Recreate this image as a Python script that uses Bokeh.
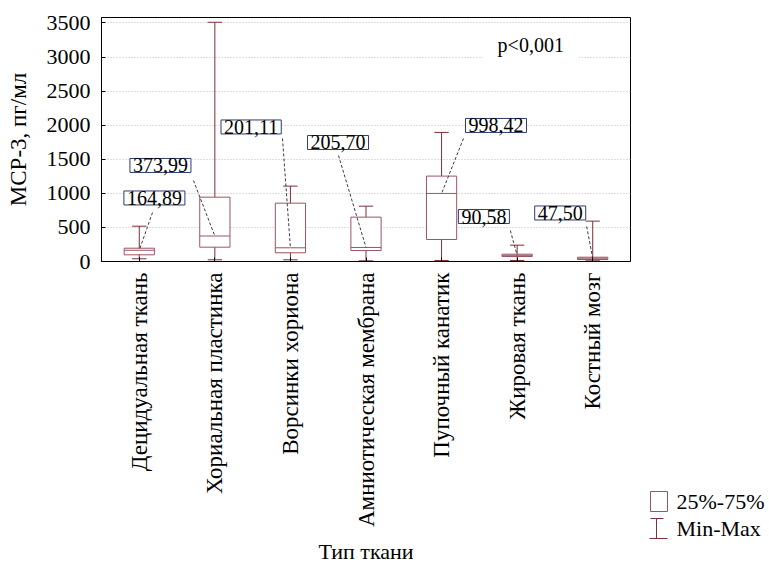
import math
from bokeh.plotting import figure
from bokeh.layouts import row
from bokeh.models import Range1d, FixedTicker, Label, ColumnDataSource
from bokeh.core.properties import value
from bokeh.embed import file_html
from bokeh.resources import INLINE

# ---- data ----
categories = ["Децидуальная ткань", "Хориальная пластинка", "Ворсинки хориона",
              "Амниотическая мембрана", "Пупочный канатик", "Жировая ткань", "Костный мозг"]
mins = [40, 25, 25, 10, 15, 15, 10]
q1 = [98, 210, 128, 161, 323, 73, 29]
medians = [164.89, 373.99, 201.11, 205.70, 998.42, 90.58, 47.50]
q3 = [195, 944, 856, 651, 1253, 107, 63]
maxs = [518, 3510, 1106, 812, 1894, 240, 592]
median_labels = ["164,89", "373,99", "201,11", "205,70", "998,42", "90,58", "47,50"]
y_ticks = [0, 500, 1000, 1500, 2000, 2500, 3000, 3500]
legend_labels = ["25%-75%", "Min-Max"]

# annotation placement (data coordinates)
lab_x = [1.20, 1.28, 2.48, 3.63, 5.72, 5.56, 6.57]
lab_y = [932, 1409, 1974, 1746, 1996, 660, 712]
lead_x0 = [1.175, 1.717, 2.895, 3.636, 5.29, 5.91, 6.92]
lead_y0 = [719, 1189, 1805, 1556, 1805, 455, 514]

FONT = "Liberation Serif"
BOX_C = "#9a5562"
WH_C = "#7e2f3a"

xs = list(range(1, len(categories) + 1))

p = figure(width=640, height=567, output_backend="svg", toolbar_location=None,
           x_range=Range1d(0.5, 7.5), y_range=Range1d(0, 3580),
           min_border_left=101, min_border_right=10, min_border_top=17, min_border_bottom=306)
p.frame_align = False
p.background_fill_color = "white"
p.border_fill_color = "white"
p.outline_line_color = "black"
p.outline_line_width = 1

src = ColumnDataSource(dict(x=xs, mn=mins, q1=q1, md=medians, q3=q3, mx=maxs,
                            cl=[x - 0.095 for x in xs], cr=[x + 0.095 for x in xs],
                            bl=[x - 0.2 for x in xs], br=[x + 0.2 for x in xs],
                            lx0=lead_x0, ly0=lead_y0))

# whiskers
p.segment(x0="x", y0="mn", x1="x", y1="mx", source=src, line_color=WH_C, line_width=1)
p.segment(x0="cl", y0="mx", x1="cr", y1="mx", source=src, line_color=WH_C, line_width=1)
p.segment(x0="cl", y0="mn", x1="cr", y1="mn", source=src, line_color=WH_C, line_width=1)
# boxes and medians
p.vbar(x="x", width=0.4, bottom="q1", top="q3", source=src, fill_color="white",
       line_color=BOX_C, line_width=1)
p.segment(x0="bl", y0="md", x1="br", y1="md", source=src, line_color=BOX_C, line_width=1)
# leader lines to the median labels
p.segment(x0="lx0", y0="ly0", x1="x", y1="md", source=src, line_color="#3a3a55",
          line_width=1, line_dash="3 2")

for x, y, t in zip(lab_x, lab_y, median_labels):
    p.add_layout(Label(x=x, y=y, text=t, text_align="center", text_baseline="middle",
                       text_font=FONT, text_font_size="20px", text_color="black",
                       background_fill_color="white", border_line_color="#2e3a6e",
                       border_line_width=1, padding=dict(left=3, right=3, top=0, bottom=0)))

p.add_layout(Label(x=6.18, y=3170, text="p<0,001", text_align="center", text_baseline="middle",
                   text_font=FONT, text_font_size="20px", text_color="black",
                   background_fill_color="white",
                   padding=dict(left=15, right=15, top=4, bottom=4)))

# axes
yt = FixedTicker(ticks=y_ticks)
xt = FixedTicker(ticks=xs)
p.yaxis.ticker = yt
p.xaxis.ticker = xt
p.xaxis.major_label_overrides = {x: c for x, c in zip(xs, categories)}
p.xaxis.major_label_orientation = math.pi / 2
p.axis.major_label_text_color = "black"
p.axis.major_tick_in = 4
p.axis.major_tick_out = 0
p.axis.minor_tick_line_color = None
p.axis.axis_line_color = "black"
p.axis.major_tick_line_color = "black"
p.axis.major_label_text_font = FONT
p.yaxis.major_label_text_font_size = "22px"
p.xaxis.major_label_text_font_size = "23px"
p.yaxis.major_label_standoff = 11
p.xaxis.major_label_standoff = 11
p.axis.axis_label_text_font = FONT
p.axis.axis_label_text_font_style = "normal"
p.axis.axis_label_text_color = "black"
p.yaxis.axis_label = "МСР-3, пг/мл"
p.yaxis.axis_label_text_font_size = "23px"
p.yaxis.axis_label_standoff = 13
p.xaxis.axis_label = "Тип ткани"
p.xaxis.axis_label_text_font_size = "22px"
p.xaxis.axis_label_standoff = 9

p.xgrid.grid_line_color = None
p.ygrid.ticker = yt
p.ygrid.grid_line_color = "#bdbdbd"
p.ygrid.grid_line_dash = "1 2"

# ---- legend panel (separate small canvas at the right) ----
lg = figure(width=129, height=567, output_backend="svg", toolbar_location=None,
            x_range=Range1d(0, 129), y_range=Range1d(0, 567), min_border=0)
lg.frame_align = False
lg.axis.visible = False
lg.grid.grid_line_color = None
lg.outline_line_color = None
lg.background_fill_color = "white"
lg.border_fill_color = "white"
# box symbol
lg.quad(left=[10], right=[27], top=[76], bottom=[56], fill_color="white",
        line_color=BOX_C, line_width=1)
# min-max symbol
lg.segment(x0=[16, 10, 9], y0=[29, 49, 29], x1=[16, 23, 27], y1=[49, 49, 29],
           line_color=WH_C, line_width=1)
lg.text(x=[36, 36], y=[66, 39], text=legend_labels, text_font=value(FONT),
        text_font_size="22px", text_color="black", text_baseline="middle", text_align="left")

layout = row(p, lg)
html = file_html(layout, INLINE)
# make the browser load the serif font before the plot is drawn
preload = ("<div style=\"position:absolute;left:-9999px;top:0;"
           "font-family:'Liberation Serif';font-size:20px\">Абв 0123 p&lt;0,001</div>")
if "<body>" in html:
    html = html.replace("<body>", "<body>" + preload, 1)
open("out.html", "w").write(html)
